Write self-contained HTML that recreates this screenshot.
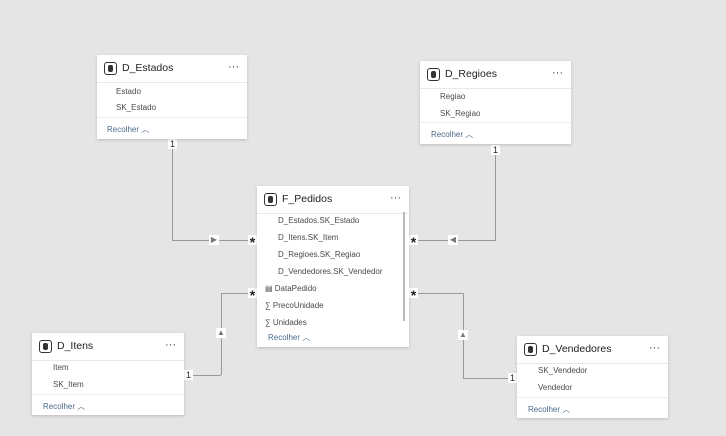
<!DOCTYPE html>
<html><head><style>
body{margin:0;width:726px;height:436px;background:#e5e5e5;position:relative;overflow:hidden;font-family:"Liberation Sans",sans-serif}
.card{position:absolute;background:#fff;box-shadow:0 1px 3px rgba(0,0,0,.18)}
.hd{height:27px;border-bottom:1px solid #e8e8e8;position:relative}
.ic{position:absolute;left:7px;top:7px;width:11px;height:11px;border:1.5px solid #333;border-radius:3px}
.ic:after{content:"";position:absolute;left:3px;top:2px;width:5px;height:7px;background:#333;border-radius:2px}
.t{position:absolute;left:25px;top:7px;font-size:10.5px;color:#222}
.dots{position:absolute;right:8px;top:7px;font-size:11px;color:#333;line-height:11px}
.r{position:absolute;font-size:8px;color:#4a4a4a}
.rc{position:absolute;font-size:8px;color:#4a6a8a}
.lbl{position:absolute;background:#fff;font-size:9px;color:#222;width:9px;height:10px;text-align:center;line-height:10px}
.ast{position:absolute;background:#fff;font-size:14px;font-weight:bold;color:#222;width:9px;height:10px;text-align:center;line-height:15px;overflow:hidden}
.ln{position:absolute;background:#999}
.mk{position:absolute;background:#fff;width:10px;height:10px;font-size:8px;color:#777;text-align:center;line-height:10px}
</style></head><body>
<div class="ln" style="left:172px;top:145px;width:1px;height:95px"></div>
<div class="ln" style="left:172px;top:240px;width:82px;height:1px"></div>
<div class="ln" style="left:495px;top:150px;width:1px;height:90px"></div>
<div class="ln" style="left:412px;top:240px;width:84px;height:1px"></div>
<div class="ln" style="left:184px;top:375px;width:37px;height:1px"></div>
<div class="ln" style="left:221px;top:293px;width:1px;height:82px"></div>
<div class="ln" style="left:221px;top:293px;width:33px;height:1px"></div>
<div class="ln" style="left:463px;top:378px;width:55px;height:1px"></div>
<div class="ln" style="left:463px;top:293px;width:1px;height:85px"></div>
<div class="ln" style="left:412px;top:293px;width:52px;height:1px"></div>
<div class="mk" style="left:209px;top:235px">▶</div>
<div class="mk" style="left:448px;top:235px">◀</div>
<div class="mk" style="left:216px;top:328px">▲</div>
<div class="mk" style="left:458px;top:330px">▲</div>
<div class="lbl" style="left:168px;top:139px">1</div>
<div class="lbl" style="left:491px;top:145px">1</div>
<div class="lbl" style="left:184px;top:370px">1</div>
<div class="lbl" style="left:508px;top:373px">1</div>
<div class="ast" style="left:248px;top:235px">*</div>
<div class="ast" style="left:248px;top:288px">*</div>
<div class="ast" style="left:409px;top:235px">*</div>
<div class="ast" style="left:409px;top:288px">*</div>

<div class="card" style="left:97px;top:55px;width:150px;height:84px">
<div class="hd"><div class="ic"></div><div class="t">D_Estados</div><div class="dots">···</div></div>
<div class="r" style="left:19px;top:32px">Estado</div>
<div class="r" style="left:19px;top:48px">SK_Estado</div>
<div style="position:absolute;left:0;right:0;top:62px;border-top:1px solid #eee"></div>
<div class="rc" style="left:10px;top:69px">Recolher ︿</div>
</div>

<div class="card" style="left:420px;top:61px;width:151px;height:83px">
<div class="hd"><div class="ic"></div><div class="t">D_Regioes</div><div class="dots">···</div></div>
<div class="r" style="left:20px;top:31px">Regiao</div>
<div class="r" style="left:20px;top:48px">SK_Regiao</div>
<div style="position:absolute;left:0;right:0;top:61px;border-top:1px solid #eee"></div>
<div class="rc" style="left:11px;top:68px">Recolher ︿</div>
</div>

<div class="card" style="left:257px;top:186px;width:152px;height:161px">
<div class="hd"><div class="ic"></div><div class="t">F_Pedidos</div><div class="dots">···</div></div>
<div style="position:absolute;left:146px;top:26px;width:2px;height:109px;background:#bbb"></div>
<div class="r" style="left:21px;top:30px">D_Estados.SK_Estado</div>
<div class="r" style="left:21px;top:47px">D_Itens.SK_Item</div>
<div class="r" style="left:21px;top:64px">D_Regioes.SK_Regiao</div>
<div class="r" style="left:21px;top:81px">D_Vendedores.SK_Vendedor</div>
<div class="r" style="left:8px;top:98px">▤ DataPedido</div>
<div class="r" style="left:8px;top:115px">∑ PrecoUnidade</div>
<div class="r" style="left:8px;top:132px">∑ Unidades</div>
<div class="rc" style="left:11px;top:146px">Recolher ︿</div>
</div>

<div class="card" style="left:32px;top:333px;width:152px;height:82px">
<div class="hd"><div class="ic"></div><div class="t">D_Itens</div><div class="dots">···</div></div>
<div class="r" style="left:21px;top:30px">Item</div>
<div class="r" style="left:21px;top:47px">SK_Item</div>
<div style="position:absolute;left:0;right:0;top:61px;border-top:1px solid #eee"></div>
<div class="rc" style="left:11px;top:68px">Recolher ︿</div>
</div>

<div class="card" style="left:517px;top:336px;width:151px;height:82px">
<div class="hd"><div class="ic"></div><div class="t">D_Vendedores</div><div class="dots">···</div></div>
<div class="r" style="left:21px;top:30px">SK_Vendedor</div>
<div class="r" style="left:21px;top:47px">Vendedor</div>
<div style="position:absolute;left:0;right:0;top:61px;border-top:1px solid #eee"></div>
<div class="rc" style="left:11px;top:68px">Recolher ︿</div>
</div>
</body></html>
